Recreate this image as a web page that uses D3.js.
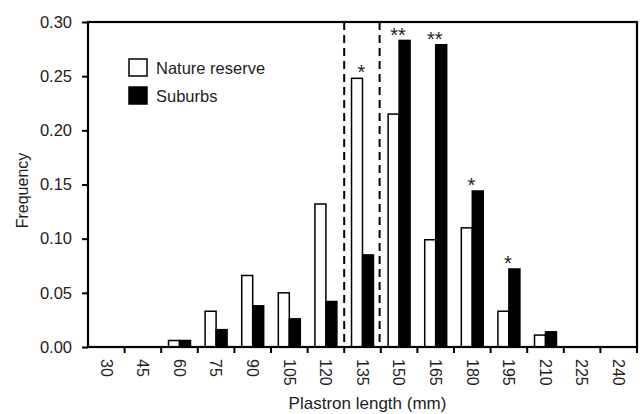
<!DOCTYPE html>
<html>
<head>
<meta charset="utf-8">
<script src="https://cdn.jsdelivr.net/npm/d3@7"></script>
<style>
    body { margin: 0; background: #fff; }
    svg { display: block; font-family: "Liberation Sans", Arial, sans-serif; }
</style>
</head>
<body>
<div id="chart"></div>
<script>
// Plastron length classes (mm)
const lengths = [30, 45, 60, 75, 90, 105, 120, 135, 150, 165, 180, 195, 210, 225, 240];
const natureReserve = [0, 0, 0.006, 0.033, 0.066, 0.050, 0.132, 0.248, 0.215, 0.099, 0.110, 0.033, 0.011, 0, 0];
const suburbs = [0, 0, 0.006, 0.016, 0.038, 0.026, 0.042, 0.085, 0.283, 0.279, 0.144, 0.072, 0.014, 0, 0];
const yTicks = [0, 0.05, 0.10, 0.15, 0.20, 0.25, 0.30];
// significance marks
const stars = [
    { length: 135, label: "*" },
    { length: 150, label: "**" },
    { length: 165, label: "**" },
    { length: 180, label: "*" },
    { length: 195, label: "*" }
];
const dashedAt = [135];
const seriesNames = ["Nature reserve", "Suburbs"];

const margin = { top: 22, right: 6, bottom: 67, left: 88 };
const width = 643 - margin.left - margin.right;
const height = 414 - margin.top - margin.bottom;

const svg = d3.select("#chart")
    .append("svg")
    .attr("width", 643)
    .attr("height", 414)
    .append("g")
    .attr("transform", `translate(${margin.left},${margin.top})`);

const x0 = d3.scaleBand().domain(lengths).range([0, width]).paddingInner(0).paddingOuter(0);
const x1 = d3.scaleBand().domain(seriesNames)
    .range([x0.bandwidth() * 0.2, x0.bandwidth() * 0.8]).padding(0);
const y = d3.scaleLinear().domain([0, 0.30]).range([height, 0]);
const color = d3.scaleOrdinal().domain(seriesNames).range(["#fff", "#000"]);

const rows = lengths.map((l, i) => ({
    length: l,
    values: [
        { key: "Nature reserve", value: natureReserve[i] },
        { key: "Suburbs", value: suburbs[i] }
    ]
}));

// dashed lines around the 135 class
dashedAt.forEach(l => {
    [x0(l), x0(l) + x0.bandwidth() - 1.2].forEach(xx => {
        svg.append("line")
            .attr("x1", xx).attr("x2", xx)
            .attr("y1", 0).attr("y2", height)
            .attr("stroke", "#000")
            .attr("stroke-width", 2)
            .attr("stroke-dasharray", "8,5");
    });
});

// bars
const groups = svg.selectAll(".group")
    .data(rows)
    .join("g")
    .attr("class", "group")
    .attr("transform", d => `translate(${x0(d.length)},0)`);

groups.selectAll("rect")
    .data(d => d.values.filter(v => v.value > 0))
    .join("rect")
    .attr("x", d => x1(d.key))
    .attr("width", x1.bandwidth())
    .attr("y", d => y(d.value))
    .attr("height", d => height - y(d.value))
    .attr("fill", d => color(d.key))
    .attr("stroke", "#000")
    .attr("stroke-width", 1.5);

// stars
svg.selectAll(".star")
    .data(stars)
    .join("text")
    .attr("class", "star")
    .attr("x", d => x0(d.length) + x0.bandwidth() / 2 - 1)
    .attr("y", d => {
        const i = lengths.indexOf(d.length);
        return Math.max(y(Math.max(natureReserve[i], suburbs[i])) + 1, 20);
    })
    .attr("text-anchor", "middle")
    .style("font-size", "20px")
    .style("fill", "#222")
    .text(d => d.label);

// axes
const xAxis = svg.append("g")
    .attr("transform", `translate(0,${height})`)
    .call(d3.axisBottom(x0).tickSize(0).tickPadding(0));
xAxis.select(".domain").remove();
xAxis.selectAll(".tick text")
    .attr("transform", "rotate(90)")
    .attr("x", 12)
    .attr("y", 0)
    .attr("dy", "0.35em")
    .style("text-anchor", "start")
    .style("font-size", "16px")
    .style("fill", "#222")
    .style("font-family", "Liberation Sans, Arial, sans-serif");

// x tick marks at class boundaries
svg.selectAll(".xtick")
    .data(lengths)
    .join("line")
    .attr("class", "xtick")
    .attr("x1", d => x0(d) + x0.bandwidth())
    .attr("x2", d => x0(d) + x0.bandwidth())
    .attr("y1", height)
    .attr("y2", height + 6)
    .attr("stroke", "#000")
    .attr("stroke-width", 2);

const yAxis = svg.append("g")
    .call(d3.axisLeft(y).tickValues(yTicks).tickFormat(d3.format(".2f")).tickSize(6).tickPadding(10));
yAxis.select(".domain").remove();
yAxis.selectAll(".tick line").attr("stroke-width", 2);
yAxis.selectAll(".tick text")
    .style("font-size", "16.5px")
    .style("fill", "#222")
    .style("font-family", "Liberation Sans, Arial, sans-serif");

// frame
svg.append("rect")
    .attr("x", 0).attr("y", 0)
    .attr("width", width).attr("height", height)
    .attr("fill", "none")
    .attr("stroke", "#000")
    .attr("stroke-width", 2.2);

// axis labels
svg.append("text")
    .attr("x", width / 2 + 5)
    .attr("y", height + 62)
    .attr("text-anchor", "middle")
    .style("font-size", "17px")
    .style("fill", "#222")
    .text("Plastron length (mm)");

svg.append("text")
    .attr("transform", "rotate(-90)")
    .attr("x", -height / 2 - 6)
    .attr("y", -60)
    .attr("text-anchor", "middle")
    .style("font-size", "16px")
    .style("fill", "#222")
    .text("Frequency");

// legend
const legend = svg.append("g")
    .attr("transform", "translate(41,37)");

const entries = legend.selectAll(".legend-entry")
    .data(seriesNames)
    .join("g")
    .attr("class", "legend-entry")
    .attr("transform", (d, i) => `translate(0,${i * 28})`);

entries.append("rect")
    .attr("width", 18)
    .attr("height", 17)
    .attr("fill", d => color(d))
    .attr("stroke", "#000")
    .attr("stroke-width", 1.5);

entries.append("text")
    .attr("x", 27)
    .attr("y", 9)
    .attr("dy", "0.35em")
    .style("font-size", "16.5px")
    .style("fill", "#222")
    .text(d => d);
</script>
</body>
</html>
